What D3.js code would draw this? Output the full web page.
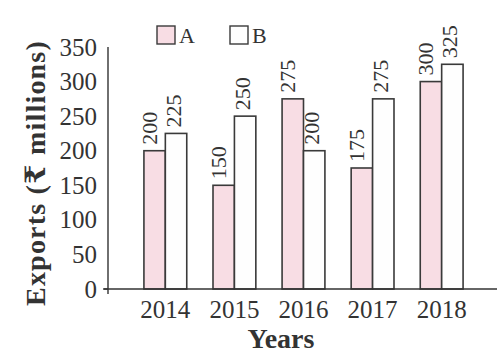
<!DOCTYPE html>
<html>
<head>
<meta charset="utf-8">
<script src="https://cdn.jsdelivr.net/npm/d3@7"></script>
<style>
  html, body { margin: 0; padding: 0; background: #fff; }
  svg { display: block; }
  text { font-family: "Liberation Serif", "DejaVu Serif", serif; fill: #333; }
</style>
</head>
<body>
<svg id="chart" width="497" height="356"></svg>
<script>
// Exports by year for two companies
const years = ["2014", "2015", "2016", "2017", "2018"];
const seriesNames = ["A", "B"];
const valuesA = [200, 150, 275, 175, 300];
const valuesB = [225, 250, 200, 275, 325];
const yTicks = [0, 50, 100, 150, 200, 250, 300, 350];

const W = 497, H = 356;
const left = 108, baseY = 289, topY = 47;

const svg = d3.select("#chart");

const x0 = d3.scaleBand().domain(years).range([left, 499]).paddingInner(0.38).paddingOuter(0.52);
const x1 = d3.scaleBand().domain(seriesNames).range([0, x0.bandwidth()]);
const y = d3.scaleLinear().domain([0, 350]).range([baseY, topY]);
const fill = d3.scaleOrdinal().domain(seriesNames).range(["#f8dde4", "#fefefe"]);

const rows = years.map((yr, i) => ({ year: yr, vals: [
  { key: "A", v: valuesA[i] }, { key: "B", v: valuesB[i] }
]}));

// bars
const g = svg.append("g");
const groups = g.selectAll("g.yr").data(rows).join("g")
  .attr("transform", d => `translate(${x0(d.year)},0)`);
groups.selectAll("rect").data(d => d.vals).join("rect")
  .attr("x", d => x1(d.key))
  .attr("y", d => y(d.v))
  .attr("width", x1.bandwidth())
  .attr("height", d => baseY - y(d.v))
  .attr("fill", d => fill(d.key))
  .attr("stroke", "#3a3a3a")
  .attr("stroke-width", 1.6);

// value labels, rotated above each bar
groups.selectAll("text.val").data(d => d.vals).join("text")
  .attr("class", "val")
  .attr("transform", d => `translate(${x1(d.key) + x1.bandwidth() / 2 + (d.key === "A" ? 2 : 5)},${y(d.v) - 6}) rotate(-90)`)
  .attr("text-anchor", "start")
  .style("font-size", "22px")
  .text(d => d.v);

// y axis
const yAxis = d3.axisLeft(y).tickValues(yTicks).tickSize(0).tickPadding(11);
const ya = svg.append("g").attr("transform", `translate(${left},0)`).call(yAxis);
ya.select(".domain").remove();
ya.selectAll("text").style("font-size", "25px").attr("fill", "#333")
  .attr("font-family", "Liberation Serif");
svg.append("line").attr("x1", left).attr("x2", left).attr("y1", y(350)).attr("y2", baseY + 5)
  .attr("stroke", "#333").attr("stroke-width", 1.4);
svg.append("line").attr("x1", left - 5).attr("x2", left).attr("y1", baseY).attr("y2", baseY)
  .attr("stroke", "#333").attr("stroke-width", 1.4);

// x axis
const xAxis = d3.axisBottom(x0).tickSize(0).tickPadding(11);
const xa = svg.append("g").attr("transform", `translate(0,${baseY})`).call(xAxis);
xa.select(".domain").remove();
xa.selectAll("text").style("font-size", "25px").attr("fill", "#333")
  .attr("font-family", "Liberation Serif");
svg.append("line").attr("x1", left - 4).attr("x2", W).attr("y1", baseY).attr("y2", baseY)
  .attr("stroke", "#333").attr("stroke-width", 1.6);

// axis titles
svg.append("text")
  .attr("transform", `translate(45,173) rotate(-90)`)
  .attr("text-anchor", "middle")
  .style("font-size", "28px").style("font-weight", "bold")
  .style("letter-spacing", "1.2px")
  .text("Exports (₹ millions)");
svg.append("text")
  .attr("x", 281).attr("y", 348)
  .attr("text-anchor", "middle")
  .style("font-size", "28px").style("font-weight", "bold")
  .text("Years");

// legend
const legend = svg.append("g");
const legendX = [157, 230];
seriesNames.forEach((s, i) => {
  legend.append("rect").attr("x", legendX[i]).attr("y", 26).attr("width", 18).attr("height", 18)
    .attr("fill", fill(s)).attr("stroke", "#3a3a3a").attr("stroke-width", 1.4);
  legend.append("text").attr("x", legendX[i] + 22).attr("y", 43)
    .style("font-size", "22px").text(s);
});
</script>
</body>
</html>
